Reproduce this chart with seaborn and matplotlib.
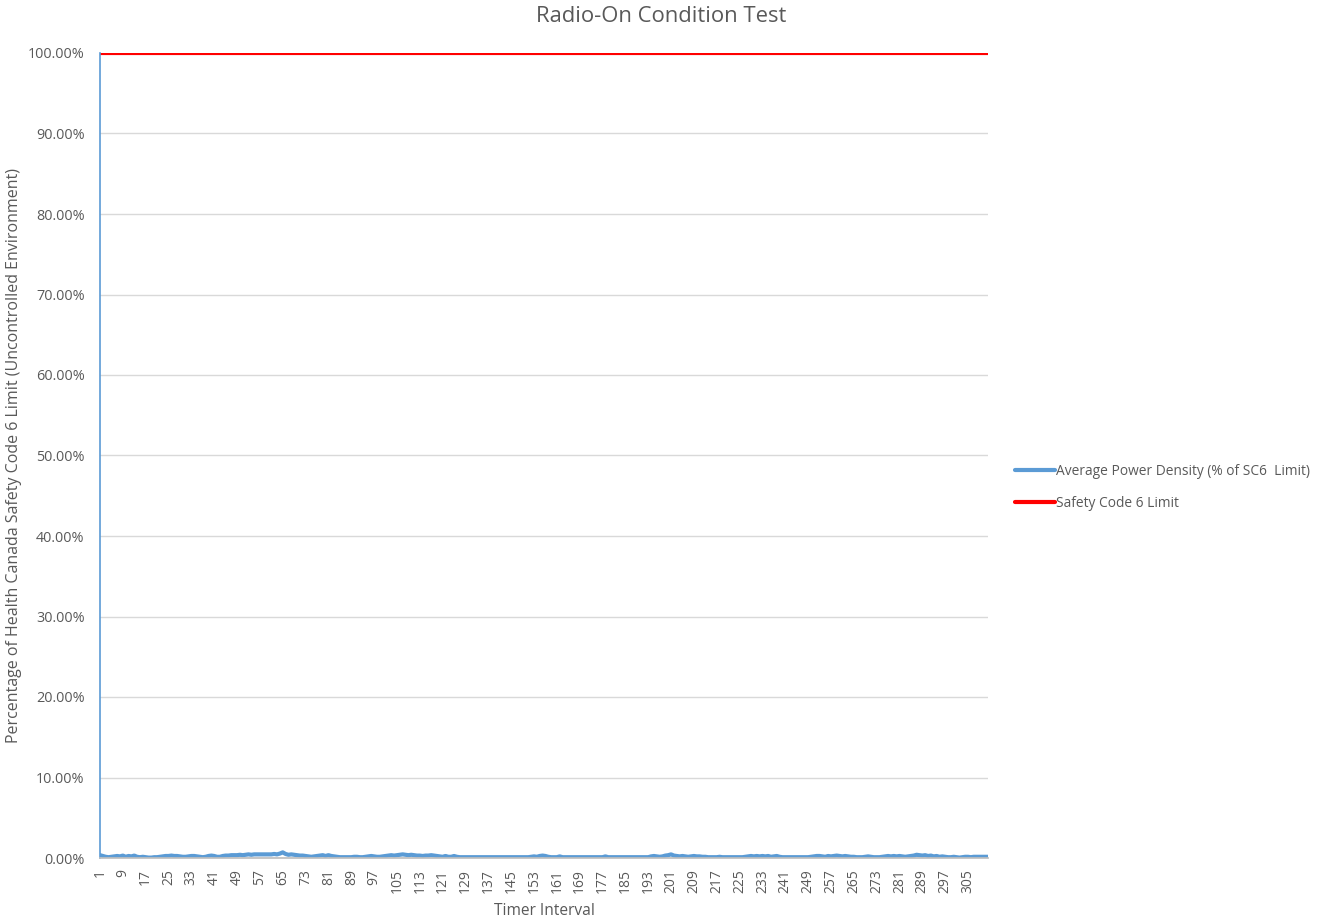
import numpy as np
import pandas as pd
import matplotlib
matplotlib.use("Agg")
import matplotlib.pyplot as plt
from matplotlib.ticker import PercentFormatter, FixedLocator
import seaborn as sns

# Average power density per timer interval, in % of the Safety Code 6 limit
power_density_pct = [
    0.35, 0.25, 0.15, 0.10, 0.15, 0.20, 0.25, 0.20,
    0.30, 0.15, 0.25, 0.20, 0.30, 0.15, 0.10, 0.15,
    0.10, 0.05, 0.05, 0.10, 0.10, 0.15, 0.20, 0.25,
    0.25, 0.30, 0.25, 0.25, 0.20, 0.15, 0.15, 0.20,
    0.25, 0.25, 0.20, 0.15, 0.10, 0.15, 0.25, 0.30,
    0.25, 0.15, 0.15, 0.25, 0.30, 0.30, 0.35, 0.35,
    0.35, 0.40, 0.35, 0.40, 0.45, 0.40, 0.45, 0.45,
    0.45, 0.45, 0.45, 0.45, 0.45, 0.50, 0.45, 0.55,
    0.70, 0.50, 0.40, 0.45, 0.40, 0.35, 0.30, 0.30,
    0.25, 0.20, 0.15, 0.20, 0.25, 0.30, 0.35, 0.25,
    0.35, 0.25, 0.20, 0.15, 0.10, 0.10, 0.10, 0.10,
    0.10, 0.15, 0.15, 0.10, 0.10, 0.15, 0.20, 0.25,
    0.20, 0.15, 0.15, 0.20, 0.25, 0.30, 0.35, 0.30,
    0.35, 0.40, 0.45, 0.40, 0.35, 0.40, 0.35, 0.30,
    0.30, 0.25, 0.30, 0.30, 0.35, 0.30, 0.25, 0.20,
    0.15, 0.25, 0.15, 0.15, 0.25, 0.15, 0.10, 0.10,
    0.10, 0.10, 0.10, 0.10, 0.10, 0.10, 0.10, 0.10,
    0.10, 0.10, 0.10, 0.10, 0.10, 0.10, 0.10, 0.10,
    0.10, 0.10, 0.10, 0.10, 0.10, 0.10, 0.10, 0.15,
    0.20, 0.15, 0.25, 0.30, 0.25, 0.15, 0.10, 0.10,
    0.10, 0.20, 0.10, 0.10, 0.10, 0.10, 0.10, 0.10,
    0.10, 0.10, 0.10, 0.10, 0.10, 0.10, 0.10, 0.10,
    0.10, 0.20, 0.10, 0.10, 0.10, 0.10, 0.10, 0.10,
    0.10, 0.10, 0.10, 0.10, 0.10, 0.10, 0.10, 0.10,
    0.10, 0.20, 0.25, 0.20, 0.15, 0.20, 0.30, 0.35,
    0.45, 0.30, 0.25, 0.20, 0.25, 0.20, 0.15, 0.20,
    0.25, 0.20, 0.20, 0.15, 0.15, 0.10, 0.10, 0.10,
    0.10, 0.15, 0.10, 0.10, 0.10, 0.10, 0.10, 0.10,
    0.10, 0.10, 0.15, 0.20, 0.25, 0.20, 0.25, 0.20,
    0.25, 0.20, 0.25, 0.15, 0.20, 0.25, 0.15, 0.10,
    0.10, 0.10, 0.10, 0.10, 0.10, 0.10, 0.10, 0.10,
    0.10, 0.15, 0.20, 0.25, 0.25, 0.20, 0.15, 0.25,
    0.20, 0.25, 0.30, 0.25, 0.20, 0.25, 0.20, 0.15,
    0.15, 0.10, 0.10, 0.10, 0.15, 0.20, 0.15, 0.10,
    0.10, 0.10, 0.15, 0.20, 0.25, 0.20, 0.25, 0.20,
    0.25, 0.20, 0.15, 0.20, 0.25, 0.30, 0.40, 0.35,
    0.30, 0.35, 0.25, 0.30, 0.20, 0.25, 0.15, 0.20,
    0.15, 0.10, 0.10, 0.15, 0.10, 0.05, 0.10, 0.15,
    0.15, 0.10, 0.15, 0.15, 0.15, 0.15, 0.15, 0.15,
]
sc6_limit_pct = 100.0
timer_interval = list(range(1, len(power_density_pct) + 1))
tick_labels = list(range(1, 306, 8))

series_names = ["Average Power Density (% of SC6  Limit)", "Safety Code 6 Limit"]
series_colors = ["#5B9BD5", "#FF0000"]

df = pd.DataFrame({
    "Timer Interval": timer_interval * 2,
    "Percent": power_density_pct + [sc6_limit_pct] * len(timer_interval),
    "Series": [series_names[0]] * len(timer_interval) + [series_names[1]] * len(timer_interval),
})

sns.set_theme(style="white")
plt.rcParams["font.family"] = ["Open Sans", "DejaVu Sans"]
text_gray = "#595959"

fig = plt.figure(figsize=(13.23, 9.24), dpi=100)
ax = fig.add_axes([100 / 1323, 1 - 858 / 924, (988 - 100) / 1323, (858 - 53) / 924])

sns.lineplot(data=df, x="Timer Interval", y="Percent", hue="Series",
             palette=dict(zip(series_names, series_colors)), linewidth=3,
             ax=ax, legend=True)

ax.set_xlim(1, len(timer_interval))
ax.set_ylim(0, 100)
ax.yaxis.set_major_locator(FixedLocator(np.arange(0, 101, 10)))
ax.yaxis.set_major_formatter(PercentFormatter(xmax=100, decimals=2))
ax.set_xticks(tick_labels)
ax.set_xticklabels([str(t) for t in tick_labels], rotation=90)
ax.tick_params(axis="both", length=0, labelcolor=text_gray)
ax.tick_params(axis="y", labelsize=10.4, pad=11)
ax.tick_params(axis="x", labelsize=10, pad=8)

ax.grid(axis="y", color="#D9D9D9", linewidth=1)
ax.grid(axis="x", visible=False)
for side in ["top", "right"]:
    ax.spines[side].set_visible(False)
ax.spines["bottom"].set_color("#BFBFBF")
ax.spines["left"].set_color("#5B9BD5")
ax.spines["left"].set_linewidth(1.2)

ax.set_xlabel("Timer Interval", fontsize=11.2, color=text_gray, labelpad=7)
ax.set_ylabel("Percentage of Health Canada Safety Code 6 Limit (Uncontrolled Environment)",
              fontsize=11.5, color=text_gray)
ax.yaxis.set_label_coords(-0.088, 0.5)

fig.text(0.5, 1 - 17 / 924, "Radio-On Condition Test", ha="center", va="center",
         fontsize=15.8, color=text_gray)

leg = ax.legend(loc="center left", bbox_to_anchor=(1.0304, 0.46), frameon=False,
                fontsize=9.9, handlelength=2.9, handletextpad=0.05, labelspacing=1.25,
                borderaxespad=0, borderpad=0)
for t in leg.get_texts():
    t.set_color(text_gray)
for h in leg.get_lines():
    h.set_linewidth(3)

fig.savefig("out.png", dpi=100)
